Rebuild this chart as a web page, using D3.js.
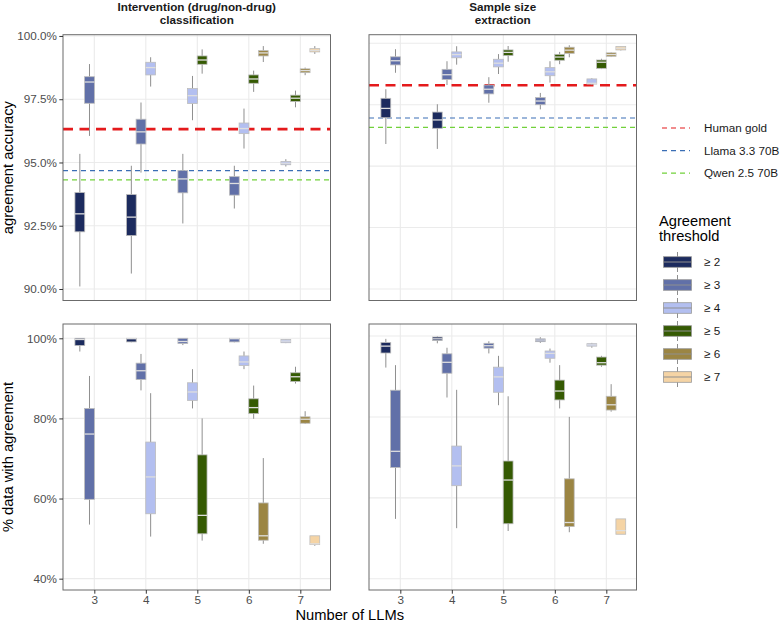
<!DOCTYPE html>
<html>
<head>
<meta charset="utf-8">
<script src="https://cdnjs.cloudflare.com/ajax/libs/d3/7.8.5/d3.min.js"></script>
<style>
  body { margin: 0; background: #fff; }
  svg text { font-family: "Liberation Sans", Arial, sans-serif; }
</style>
</head>
<body>
<div id="chart"></div>
<script>
// ---- data ----
var tasks = ["Intervention (drug/non-drug)\nclassification", "Sample size\nextraction"];
var llmCounts = [3, 4, 5, 6, 7];
var thresholds = ["\u2265 2", "\u2265 3", "\u2265 4", "\u2265 5", "\u2265 6", "\u2265 7"];
var thresholdColors = ["#1c2b5e", "#6170a8", "#b3bff0", "#355a03", "#9b8543", "#f5d4a5"];

// [nLLMs, threshold, whiskerLow, q1, median, q3, whiskerHigh]
var accuracyIntervention = [
  [3, 2, 90.10, 92.26, 92.97, 93.81, 95.34],
  [3, 3, 96.05, 97.34, 98.18, 98.39, 98.89],
  [4, 2, 90.61, 92.11, 92.84, 93.73, 94.87],
  [4, 3, 94.60, 95.73, 96.21, 96.71, 97.37],
  [4, 4, 98.00, 98.46, 98.75, 98.96, 99.16],
  [5, 3, 92.59, 93.80, 94.35, 94.68, 95.34],
  [5, 4, 96.67, 97.33, 97.64, 97.92, 98.42],
  [5, 5, 98.51, 98.88, 99.05, 99.21, 99.47],
  [6, 3, 93.18, 93.71, 94.17, 94.44, 94.87],
  [6, 4, 95.55, 96.14, 96.34, 96.56, 97.13],
  [6, 5, 97.79, 98.13, 98.30, 98.46, 98.63],
  [6, 6, 98.97, 99.21, 99.33, 99.42, 99.60],
  [7, 4, 94.84, 94.91, 94.97, 95.04, 95.13],
  [7, 5, 97.18, 97.41, 97.54, 97.66, 97.84],
  [7, 6, 98.45, 98.55, 98.63, 98.70, 98.75],
  [7, 7, 99.29, 99.37, 99.43, 99.50, 99.60]
];
var accuracySampleSize = [
  [3, 2, 95.90, 96.97, 97.35, 97.76, 98.13],
  [3, 3, 98.80, 99.12, 99.29, 99.45, 99.76],
  [4, 2, 95.70, 96.54, 96.88, 97.20, 97.52],
  [4, 3, 98.30, 98.53, 98.72, 98.94, 99.27],
  [4, 4, 99.13, 99.41, 99.54, 99.65, 99.88],
  [5, 3, 97.58, 97.94, 98.13, 98.30, 98.62],
  [5, 4, 98.75, 99.04, 99.19, 99.35, 99.56],
  [5, 5, 99.25, 99.50, 99.63, 99.73, 99.89],
  [6, 3, 97.31, 97.50, 97.65, 97.79, 97.98],
  [6, 4, 98.40, 98.68, 98.84, 99.01, 99.27],
  [6, 5, 99.15, 99.31, 99.44, 99.55, 99.65],
  [6, 6, 99.43, 99.59, 99.72, 99.84, 99.92],
  [7, 4, 98.30, 98.34, 98.37, 98.55, 98.58],
  [7, 5, 98.95, 98.98, 99.23, 99.32, 99.37],
  [7, 6, 99.44, 99.47, 99.54, 99.61, 99.63],
  [7, 7, 99.71, 99.73, 99.80, 99.87, 99.88]
];
var coverageIntervention = [
  [3, 2, 96.7, 98.2, 99.7, 100.0, 100.0],
  [3, 3, 53.5, 59.8, 76.1, 82.5, 90.6],
  [4, 2, 99.0, 99.1, 99.9, 100.0, 100.0],
  [4, 3, 87.0, 89.7, 91.9, 93.8, 96.1],
  [4, 4, 50.5, 56.2, 65.4, 74.1, 86.3],
  [5, 3, 98.3, 98.7, 99.2, 100.0, 100.0],
  [5, 4, 82.5, 84.5, 86.6, 88.9, 92.3],
  [5, 5, 49.5, 51.2, 55.8, 70.9, 80.0],
  [6, 3, 99.0, 99.1, 99.9, 100.0, 100.0],
  [6, 4, 92.3, 93.2, 94.1, 95.6, 96.7],
  [6, 5, 79.9, 81.2, 82.7, 84.9, 88.2],
  [6, 6, 48.7, 49.6, 50.7, 58.9, 70.1],
  [7, 4, 98.8, 98.9, 99.3, 99.7, 99.8],
  [7, 5, 88.7, 89.2, 90.4, 91.4, 92.9],
  [7, 6, 78.6, 78.8, 79.8, 80.4, 81.8],
  [7, 7, 48.2, 48.5, 48.7, 50.7, 50.7]
];
var coverageSampleSize = [
  [3, 2, 92.2, 95.8, 97.5, 98.4, 99.3],
  [3, 3, 54.8, 67.5, 71.5, 86.6, 92.8],
  [4, 2, 98.2, 98.9, 99.3, 99.75, 99.9],
  [4, 3, 84.8, 90.8, 93.5, 95.6, 97.1],
  [4, 4, 52.5, 63.0, 67.9, 72.8, 86.7],
  [5, 3, 95.7, 97.0, 97.6, 98.2, 98.7],
  [5, 4, 82.9, 86.1, 89.9, 92.3, 95.1],
  [5, 5, 51.8, 53.6, 64.4, 69.1, 85.1],
  [6, 3, 98.3, 98.6, 99.0, 99.3, 99.7],
  [6, 4, 93.4, 94.5, 95.7, 96.3, 96.9],
  [6, 5, 82.1, 84.2, 86.4, 89.1, 92.8],
  [6, 6, 51.5, 52.9, 53.9, 64.7, 80.0],
  [7, 4, 97.1, 97.5, 97.8, 98.1, 98.3],
  [7, 5, 92.4, 92.8, 93.4, 94.8, 95.1],
  [7, 6, 81.3, 81.7, 83.0, 85.1, 88.1],
  [7, 7, 51.0, 51.0, 51.9, 54.8, 54.8]
];

// reference lines per task: [intervention, sample size]
var refNames = ["Human gold", "Llama 3.3 70B", "Qwen 2.5 70B"];
var humanGold = [96.32, 98.29];
var llama = [94.68, 96.96];
var qwen = [94.31, 96.58];

var accuracyTicks = [90, 92.5, 95, 97.5, 100];
var coverageTicks = [40, 60, 80, 100];

// ---- layout ----
var width = 780, height = 623,
  panelW = 267.5,
  colLeft = [63, 369],
  rowTop = [34.7, 324], rowBottom = [300.5, 590],
  slot = 0.1875, boxW = 0.19,
  refStyles = [
    {color: "#e41a1c", w: 2.6, dash: "10,6.5"},
    {color: "#3a6eb5", w: 1.2, dash: "5,4"},
    {color: "#72d13b", w: 1.2, dash: "5,4"}
  ];

var panels = [
  {row: 0, col: 0, data: accuracyIntervention, dom: [89.545, 100.05], ticks: accuracyTicks, fmt: d3.format(".1f"), refs: true},
  {row: 0, col: 1, data: accuracySampleSize, dom: [89.53, 100.35], ticks: accuracyTicks, fmt: d3.format(".1f"), refs: true},
  {row: 1, col: 0, data: coverageIntervention, dom: [37.17, 103.57], ticks: coverageTicks, fmt: d3.format("d"), refs: false},
  {row: 1, col: 1, data: coverageSampleSize, dom: [37.22, 102.97], ticks: coverageTicks, fmt: d3.format("d"), refs: false}
];

var svg = d3.select("#chart").append("svg")
  .attr("width", width).attr("height", height);

panels.forEach(function(p) {
  var left = colLeft[p.col], top = rowTop[p.row], bottom = rowBottom[p.row];
  var x = d3.scaleLinear().domain([2.392, 7.586]).range([left, left + panelW]);
  var y = d3.scaleLinear().domain(p.dom).range([bottom, top]);
  var g = svg.append("g");

  // grid
  g.selectAll(".hg").data(p.ticks).enter().append("line")
    .attr("x1", left).attr("x2", left + panelW)
    .attr("y1", d => y(d)).attr("y2", d => y(d))
    .attr("stroke", "#ebebeb").attr("stroke-width", 1.1);
  g.selectAll(".vg").data(llmCounts).enter().append("line")
    .attr("x1", d => x(d)).attr("x2", d => x(d))
    .attr("y1", top).attr("y2", bottom)
    .attr("stroke", "#ebebeb").attr("stroke-width", 1.1);

  // reference lines
  if (p.refs) {
    [humanGold, llama, qwen].forEach(function(arr, k) {
      g.append("line")
        .attr("x1", left).attr("x2", left + panelW)
        .attr("y1", y(arr[p.col])).attr("y2", y(arr[p.col]))
        .attr("stroke", refStyles[k].color)
        .attr("stroke-width", refStyles[k].w)
        .attr("stroke-dasharray", refStyles[k].dash);
    });
  }

  // boxes
  var bw = x(boxW) - x(0);
  p.data.forEach(function(d) {
    var same = p.data.filter(e => e[0] === d[0]).map(e => e[1]);
    var i = same.indexOf(d[1]);
    var cx = x(d[0] + (i - 1.5) * slot);
    var col = thresholdColors[d[1] - 2];
    g.append("line").attr("x1", cx).attr("x2", cx)
      .attr("y1", y(d[6])).attr("y2", y(d[5]))
      .attr("stroke", "#8f8f8f").attr("stroke-width", 1);
    g.append("line").attr("x1", cx).attr("x2", cx)
      .attr("y1", y(d[3])).attr("y2", y(d[2]))
      .attr("stroke", "#8f8f8f").attr("stroke-width", 1);
    g.append("rect")
      .attr("x", cx - bw / 2).attr("width", bw)
      .attr("y", y(d[5])).attr("height", Math.max(y(d[3]) - y(d[5]), 0.8))
      .attr("fill", col).attr("stroke", "#bcbcbc").attr("stroke-width", 0.8);
    g.append("line").attr("x1", cx - bw / 2).attr("x2", cx + bw / 2)
      .attr("y1", y(d[4])).attr("y2", y(d[4]))
      .attr("stroke", "#dedede").attr("stroke-width", 1.3);
  });

  // border
  g.append("rect").attr("x", left).attr("y", top)
    .attr("width", panelW).attr("height", bottom - top)
    .attr("fill", "none").attr("stroke", "#6b6b6b").attr("stroke-width", 1);

  // axes
  if (p.col === 0) {
    var ya = g.append("g").attr("transform", "translate(" + left + ",0)")
      .call(d3.axisLeft(y).tickValues(p.ticks).tickSize(3.7).tickPadding(2.5)
        .tickFormat(d => p.fmt(d) + "%"));
    ya.select(".domain").remove();
    ya.selectAll("line").attr("stroke", "#333");
    ya.selectAll("text").attr("fill", "#4d4d4d").style("font-size", "11.7px")
      .style("font-family", "'Liberation Sans', Arial, sans-serif");
  }
  if (p.row === 1) {
    var xa = g.append("g").attr("transform", "translate(0," + bottom + ")")
      .call(d3.axisBottom(x).tickValues(llmCounts).tickSize(3.7).tickPadding(2)
        .tickFormat(d3.format("d")));
    xa.select(".domain").remove();
    xa.selectAll("line").attr("stroke", "#333");
    xa.selectAll("text").attr("fill", "#4d4d4d").style("font-size", "11.7px")
      .style("font-family", "'Liberation Sans', Arial, sans-serif");
  }

  // strip titles
  if (p.row === 0) {
    var lines = tasks[p.col].split("\n");
    var t = svg.append("text").attr("text-anchor", "middle")
      .attr("font-weight", "bold").attr("font-size", "11.7px").attr("fill", "#1a1a1a");
    lines.forEach(function(s, k) {
      t.append("tspan").attr("x", left + panelW / 2).attr("y", 11 + k * 13).text(s);
    });
  }
});

// axis titles
svg.append("text").attr("x", (colLeft[0] + colLeft[1] + panelW) / 2).attr("y", 619.5)
  .attr("text-anchor", "middle").attr("font-size", "14.7px").text("Number of LLMs");
svg.append("text").attr("transform", "translate(13," + (rowTop[0] + rowBottom[0]) / 2 + ") rotate(-90)")
  .attr("text-anchor", "middle").attr("font-size", "14.7px").text("agreement accuracy");
svg.append("text").attr("transform", "translate(13," + (rowTop[1] + rowBottom[1]) / 2 + ") rotate(-90)")
  .attr("text-anchor", "middle").attr("font-size", "14.7px").text("% data with agreement");

// legend: reference lines
var lg = svg.append("g");
refNames.forEach(function(name, k) {
  var ly = 128 + k * 22.6;
  lg.append("line").attr("x1", 662).attr("x2", 690).attr("y1", ly).attr("y2", ly)
    .attr("stroke", refStyles[k].color).attr("stroke-width", 1.2)
    .attr("stroke-dasharray", "5,4");
  lg.append("text").attr("x", 704).attr("y", ly + 4.2).attr("font-size", "11.7px")
    .attr("fill", "#1a1a1a").text(name);
});

// legend: thresholds
lg.append("text").attr("x", 659).attr("y", 226).attr("font-size", "14.7px").text("Agreement");
lg.append("text").attr("x", 659).attr("y", 241).attr("font-size", "14.7px").text("threshold");
thresholds.forEach(function(name, k) {
  var cy = 262 + k * 23;
  lg.append("line").attr("x1", 677.5).attr("x2", 677.5).attr("y1", cy - 10).attr("y2", cy + 10)
    .attr("stroke", "#8f8f8f").attr("stroke-width", 1);
  lg.append("rect").attr("x", 663.5).attr("y", cy - 5.3).attr("width", 28).attr("height", 10.6)
    .attr("fill", thresholdColors[k]).attr("stroke", "#9a9a9a").attr("stroke-width", 0.8);
  lg.append("line").attr("x1", 663.5).attr("x2", 691.5).attr("y1", cy).attr("y2", cy)
    .attr("stroke", "#8f8f8f").attr("stroke-width", 1);
  lg.append("text").attr("x", 704).attr("y", cy + 4.2).attr("font-size", "11.7px")
    .attr("fill", "#1a1a1a").text(name);
});
</script>
</body>
</html>
